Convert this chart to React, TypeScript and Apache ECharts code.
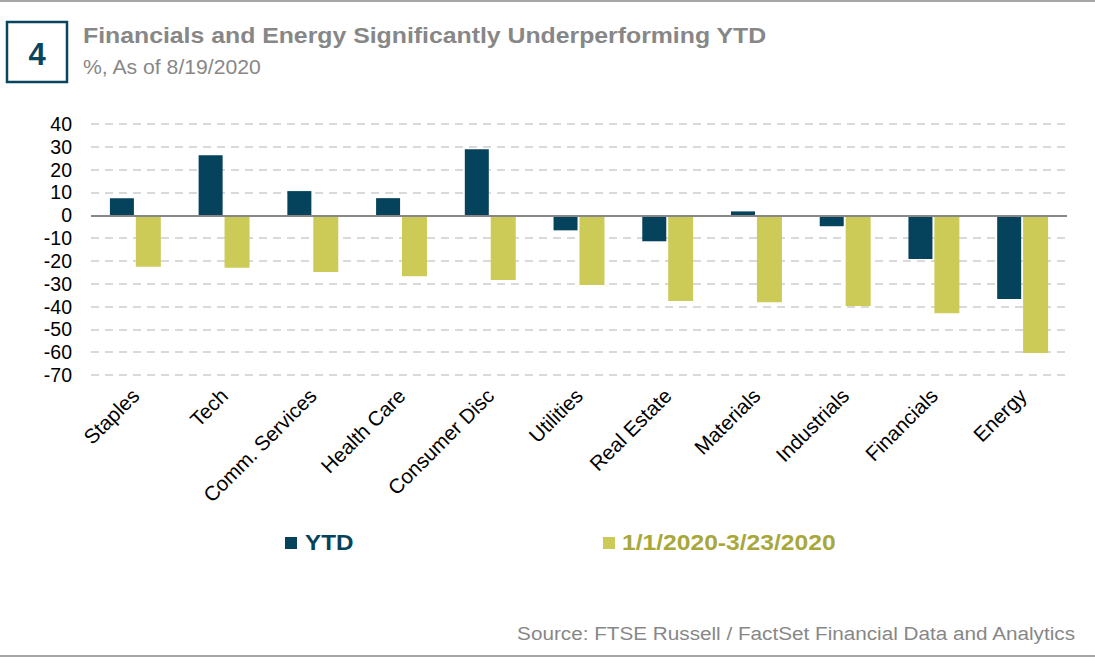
import React, { useEffect, useRef } from "react";
import * as echarts from "echarts";

const categories = ["Staples", "Tech", "Comm. Services", "Health Care", "Consumer Disc", "Utilities", "Real Estate", "Materials", "Industrials", "Financials", "Energy"];
const ytd = [7.5, 26.3, 10.6, 7.5, 28.9, -6.6, -11.4, 1.7, -4.8, -19.2, -36.7];
const crash = [-22.6, -23.0, -24.9, -26.7, -28.4, -30.6, -37.6, -38.1, -39.8, -42.9, -60.4];
const seriesNames = ["YTD", "1/1/2020-3/23/2020"];

const FONT = "Arial, 'Liberation Sans', Helvetica, sans-serif";

export default function App() {
  const ref = useRef<HTMLDivElement>(null);
  useEffect(() => {
    if (!ref.current) return;
    const chart = echarts.init(ref.current, null, { renderer: "svg" });
    const txt = (x: number, y: number, text: string, fill: string, size: number, weight: string, align: string, sx: number) => ({
      type: "text",
      x,
      y,
      scaleX: sx,
      style: { text, fill, fontSize: size, fontWeight: weight, fontFamily: FONT, textAlign: align, textVerticalAlign: "middle" },
    });
    chart.setOption({
      animation: false,
      backgroundColor: "#ffffff",
      textStyle: { fontFamily: FONT },
      grid: { left: 91, right: 28, top: 124, bottom: 296, containLabel: false },
      legend: { show: false },
      xAxis: {
        type: "category",
        data: categories,
        axisLine: { show: false },
        axisTick: { show: false },
        axisLabel: { rotate: 45, fontSize: 20.5, color: "#000", margin: 17, interval: 0, fontFamily: FONT },
      },
      yAxis: {
        type: "value",
        min: -70,
        max: 40,
        interval: 10,
        axisLine: { show: false },
        axisTick: { show: false },
        axisLabel: { fontSize: 19.5, color: "#000", margin: 19, fontFamily: FONT },
        splitLine: { lineStyle: { color: "#d9d9d9", width: 2, type: [8, 6] } },
      },
      series: [
        {
          name: seriesNames[0],
          type: "bar",
          data: ytd,
          barWidth: 24,
          barGap: "8%",
          itemStyle: { color: "#05425c" },
          markLine: {
            silent: true,
            symbol: "none",
            label: { show: false },
            lineStyle: { color: "#878787", width: 2, type: "solid" },
            data: [{ yAxis: 0 }],
          },
        },
        {
          name: seriesNames[1],
          type: "bar",
          data: crash,
          barWidth: 25,
          itemStyle: { color: "#cccb57" },
        },
      ],
      graphic: [
        { type: "line", shape: { x1: 0, y1: 1, x2: 1095, y2: 1 }, style: { stroke: "#a6a6a6", lineWidth: 2 } },
        { type: "line", shape: { x1: 0, y1: 656, x2: 1095, y2: 656 }, style: { stroke: "#a6a6a6", lineWidth: 2 } },
        { type: "rect", shape: { x: 7, y: 22, width: 60, height: 60 }, style: { fill: "#fff", stroke: "#0a4560", lineWidth: 2.5 } },
        txt(37, 54, "4", "#0a4560", 31, "bold", "center", 1),
        txt(83, 35, "Financials and Energy Significantly Underperforming YTD", "#878787", 22, "bold", "left", 1.128),
        txt(83, 67, "%, As of 8/19/2020", "#878787", 20, "normal", "left", 1.06),
        { type: "rect", shape: { x: 285, y: 537, width: 12, height: 12 }, style: { fill: "#05425c" } },
        txt(305, 542, seriesNames[0], "#05425c", 22, "bold", "left", 1.1),
        { type: "rect", shape: { x: 603, y: 537, width: 12, height: 12 }, style: { fill: "#cccb57" } },
        txt(622, 542, seriesNames[1], "#a8a83a", 22, "bold", "left", 1.12),
        txt(1075, 633, "Source: FTSE Russell / FactSet Financial Data and Analytics", "#878787", 19, "normal", "right", 1.09),
      ],
    });
    return () => chart.dispose();
  }, []);
  return <div ref={ref} style={{ width: 1095, height: 671, position: "absolute", left: 0, top: 0 }} />;
}
